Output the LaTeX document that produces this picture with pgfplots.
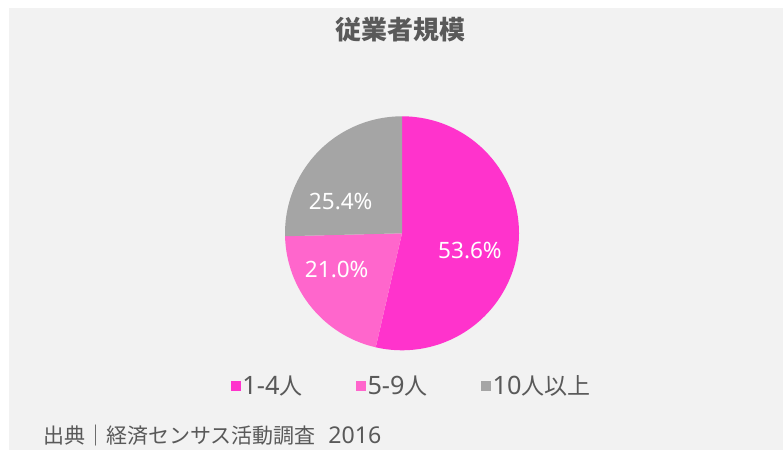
\documentclass[border=0pt]{standalone}
\usepackage{fontspec}
\setmainfont{Noto Sans CJK JP}
\newfontfamily\lat[Scale=1.1]{Noto Sans}
\usepackage{pgfplots}
\pgfplotsset{compat=1.18}
\definecolor{bg}{HTML}{F2F2F2}
\definecolor{txt}{HTML}{595959}
\definecolor{cA}{HTML}{FF33CC}
\definecolor{cB}{HTML}{FF66CC}
\definecolor{cC}{HTML}{A5A5A5}

% shares in percent, clockwise from 12 o'clock
\def\vA{53.6}
\def\vB{21.0}
\def\vC{25.4}

\begin{document}
\begin{tikzpicture}[x=1pt,y=1pt]
\clip (0,0) rectangle (783,450);
\fill[white] (0,0) rectangle (783,450);
\fill[bg] (9,0) rectangle (783,442);

\node[font=\fontsize{26}{30}\selectfont\bfseries, text=txt] at (400,420) {従業者規模};

\pgfmathsetmacro\eA{90-3.6*\vA}
\pgfmathsetmacro\eB{\eA-3.6*\vB}
\pgfmathsetmacro\eC{\eB-3.6*\vC}

\begin{axis}[
  at={(402pt,216.7pt)}, anchor=center,
  width=234pt, height=234pt, scale only axis,
  hide axis, clip=false,
  xmin=-1, xmax=1, ymin=-1, ymax=1,
  legend columns=-1,
  legend style={draw=none, fill=none, text=txt,
    font=\fontsize{23}{26}\selectfont,
    at={(axis cs:0.081,-1.305)}, anchor=center,
    nodes={inner sep=1.5pt},
    /tikz/every even column/.append style={column sep=52pt}},
  legend image code/.code={\fill[#1, draw=none] (0pt,-5pt) rectangle (10pt,5pt);},
]
\addlegendimage{fill=cA}\addlegendentry{{\lat 1-4}人}
\addlegendimage{fill=cB}\addlegendentry{{\lat 5-9}人}
\addlegendimage{fill=cC}\addlegendentry{{\lat 10}人以上}

\fill[cA] (axis cs:0,0) -- (axis cs:0,1) arc[start angle=90, end angle=\eA, radius=117pt] -- cycle;
\fill[cB] (axis cs:0,0) -- (axis cs:{cos(\eA)},{sin(\eA)}) arc[start angle=\eA, end angle=\eB, radius=117pt] -- cycle;
\fill[cC] (axis cs:0,0) -- (axis cs:{cos(\eB)},{sin(\eB)}) arc[start angle=\eB, end angle=\eC, radius=117pt] -- cycle;

\begin{scope}[font=\lat\fontsize{20.5}{26}\selectfont, text=white]
\node at (axis cs:0.581,-0.145) {53.6\%};
\node at (axis cs:-0.558,-0.313) {21.0\%};
\node at (axis cs:-0.524,0.268) {25.4\%};
\end{scope}
\end{axis}

\node[anchor=base west, inner sep=0pt, text=txt, font=\fontsize{21}{24}\selectfont]
  at (43,7) {出典｜経済センサス活動調査\hspace{0.6em}{\lat 2016}};
\end{tikzpicture}
\end{document}
